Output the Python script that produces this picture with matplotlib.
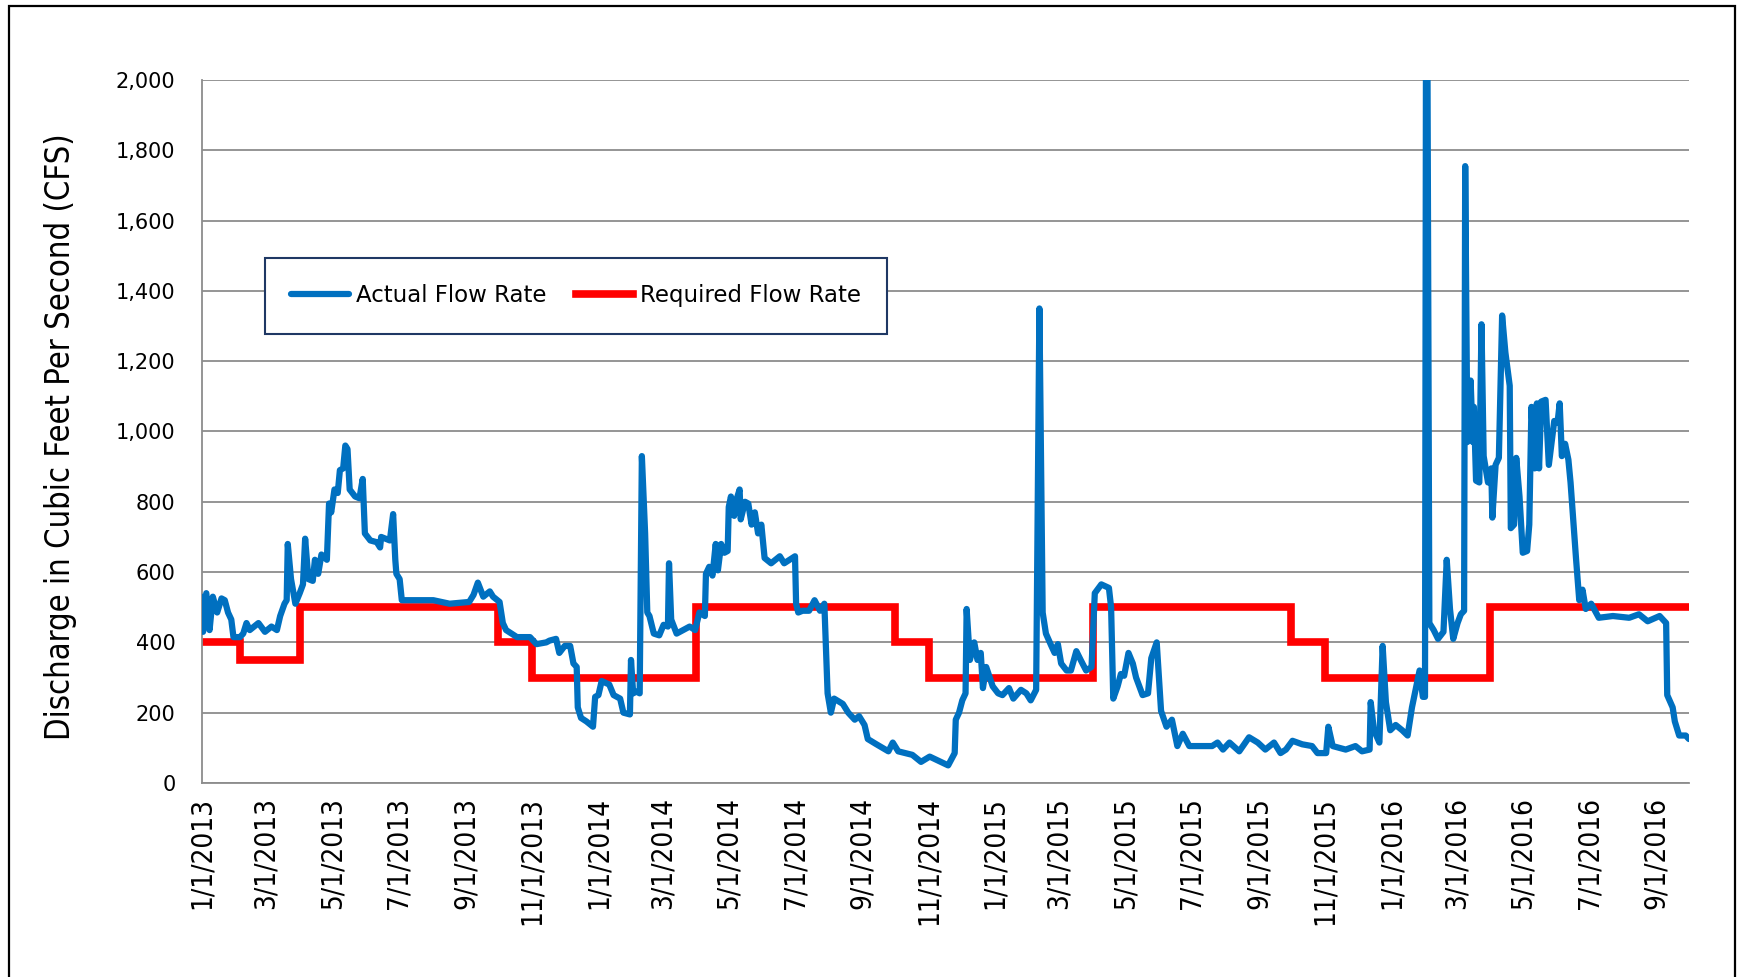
"""Actual vs required flow rate, 2013-2016, redrawn from the Excel chart."""
import matplotlib
matplotlib.use("Agg")

import matplotlib.pyplot as plt  # noqa: E402
import matplotlib.dates as mdates  # noqa: E402
from matplotlib import font_manager  # noqa: E402
from matplotlib.patches import Rectangle  # noqa: E402
from matplotlib.ticker import FuncFormatter  # noqa: E402
import pandas as pd  # noqa: E402

START = pd.Timestamp("2013-01-01")
END_DAY = 1369  # last day on the axis, 9/30/2016

# Actual flow, (days after 1/1/2013, CFS).
FLOW_2013 = [
    (0, 530), (1, 430), (4, 540), (7, 435), (10, 530), (14, 485), (18, 525),
    (21, 520), (24, 485), (27, 465), (29, 415), (35, 415), (38, 425), (41, 455),
    (44, 435), (52, 455), (58, 430), (64, 445), (69, 435), (72, 475), (76, 510),
    (78, 520), (79, 680), (82, 580), (86, 510), (90, 540), (93, 565), (95, 695),
    (98, 580), (102, 575), (104, 635), (107, 595), (110, 650), (115, 635),
    (117, 795), (119, 770), (122, 835), (125, 825), (127, 890), (130, 895),
    (132, 960), (134, 950), (136, 835), (141, 815), (145, 810), (148, 865),
    (150, 710), (155, 690), (161, 685), (164, 670), (165, 700), (173, 690),
    (176, 765), (178, 635), (179, 595), (182, 580), (184, 520), (194, 520),
    (213, 520), (228, 510), (246, 515), (250, 535), (254, 570), (259, 530),
    (265, 545), (268, 530), (274, 515), (277, 455), (280, 435), (290, 415),
    (302, 415), (308, 395), (317, 400), (320, 405), (326, 410), (329, 370),
    (334, 390), (339, 390), (342, 340), (345, 330), (346, 215), (349, 185),
    (354, 175), (360, 160),
]
FLOW_2014 = [
    (362, 245), (365, 250), (368, 290), (375, 280), (379, 250), (385, 240),
    (388, 200), (394, 195), (395, 350), (397, 255), (400, 260), (403, 255),
    (405, 930), (408, 710), (410, 485), (412, 475), (416, 425), (421, 420),
    (425, 450), (429, 445), (430, 625), (432, 465), (437, 425), (443, 435),
    (449, 445), (454, 435), (458, 485), (463, 475), (464, 595), (467, 615),
    (470, 590), (473, 680), (475, 605), (478, 680), (481, 655), (484, 660),
    (485, 785), (487, 815), (490, 760), (492, 805), (495, 835), (496, 750),
    (500, 800), (503, 795), (506, 735), (509, 770), (512, 710), (515, 735),
    (518, 640), (524, 625), (532, 645), (536, 625), (546, 645), (547, 510),
    (549, 485), (553, 490), (559, 490), (564, 520), (569, 490), (573, 510),
    (576, 255), (579, 200), (582, 240), (590, 225), (595, 200), (601, 180),
    (605, 190), (610, 165), (613, 125), (621, 110), (632, 90), (636, 115),
    (641, 90), (654, 80), (662, 60), (670, 75), (687, 50), (693, 85),
    (694, 180), (697, 200), (700, 235), (703, 255), (704, 495), (707, 350),
    (711, 400), (714, 350), (717, 370), (719, 270), (722, 330),
]
FLOW_2015 = [
    (728, 275), (733, 255), (737, 250), (743, 270), (747, 240), (754, 265),
    (759, 255), (763, 235), (768, 265), (769, 615), (771, 1350), (774, 485),
    (777, 425), (782, 390), (785, 370), (788, 395), (791, 340), (796, 320),
    (800, 320), (805, 375), (809, 350), (814, 320), (819, 330), (822, 540),
    (828, 565), (835, 555), (837, 500), (839, 240), (843, 275), (846, 310),
    (849, 305), (853, 370), (857, 340), (860, 300), (866, 250), (871, 255),
    (874, 355), (879, 400), (883, 205), (888, 160), (893, 180), (898, 105),
    (903, 140), (909, 105), (921, 105), (930, 105), (935, 115), (940, 95),
    (946, 115), (955, 90), (964, 130), (972, 115), (979, 95), (987, 115),
    (993, 85), (998, 95), (1004, 120), (1013, 110), (1022, 105), (1027, 85),
    (1035, 85), (1037, 160), (1041, 105), (1053, 95), (1062, 105), (1068, 90),
    (1075, 95), (1076, 230), (1079, 150), (1084, 115), (1087, 390), (1090, 230),
]
FLOW_2016 = [
    (1094, 150), (1099, 165), (1105, 150), (1110, 135), (1114, 215),
    (1118, 275), (1121, 320), (1124, 245), (1126, 245), (1127, 2300),
    (1128, 2300), (1130, 455), (1134, 435), (1138, 410), (1143, 430),
    (1146, 635), (1149, 495), (1152, 410), (1156, 455), (1159, 480),
    (1162, 490), (1163, 1755), (1165, 970), (1168, 1145), (1170, 970),
    (1171, 1070), (1173, 860), (1176, 855), (1178, 1305), (1180, 930),
    (1184, 855), (1187, 895), (1188, 755), (1191, 905), (1194, 925),
    (1197, 1330), (1200, 1225), (1204, 1130), (1205, 725), (1208, 735),
    (1210, 925), (1213, 815), (1216, 655), (1220, 660), (1222, 735),
    (1224, 1070), (1227, 895), (1229, 1080), (1231, 895), (1233, 1085),
    (1237, 1090), (1240, 905), (1245, 1030), (1248, 1025), (1250, 1080),
    (1252, 930), (1255, 965), (1258, 920), (1260, 855), (1265, 640),
    (1268, 520), (1271, 550), (1274, 495), (1279, 510), (1286, 470),
    (1299, 475), (1314, 470), (1323, 480), (1331, 460), (1342, 475),
    (1348, 455), (1349, 250), (1354, 215), (1356, 175), (1360, 135),
    (1366, 135), (1369, 125),
]

# Required flow: the date each level starts, and the level.
REQ_START = ["2013-01-01", "2013-02-05", "2013-04-01", "2013-10-01",
             "2013-11-01", "2014-04-01", "2014-10-01", "2014-11-01",
             "2015-04-01", "2015-10-01", "2015-11-01", "2016-04-01",
             "2016-09-30"]
REQ_CFS = [400, 350, 500, 400, 300, 500, 400, 300, 500, 400, 300, 500, 500]

BLUE = "#0070C0"
RED = "#FF0000"
GRID = "#8C8C8C"
NAVY = "#1F3864"


def _narrow_font():
    """A condensed sans if one is installed, else plain DejaVu Sans."""
    for fam in ("Liberation Sans Narrow", "DejaVu Sans"):
        try:
            path = font_manager.findfont(
                font_manager.FontProperties(family=fam, stretch="condensed"),
                fallback_to_default=False)
        except ValueError:
            continue
        if "Narrow" in path or "Condensed" in path:
            return font_manager.FontProperties(fname=path)
    return font_manager.FontProperties(family="DejaVu Sans")


NARROW = _narrow_font()

flow = FLOW_2013 + FLOW_2014 + FLOW_2015 + FLOW_2016
flow_dates = [START + pd.Timedelta(days=d) for d, _ in flow]
flow_cfs = [v for _, v in flow]
req_dates = pd.to_datetime(REQ_START)

fig = plt.figure(figsize=(17.41, 9.77), dpi=100)
ax = fig.add_axes([0.1160, 0.1986, 0.8541, 0.7195])

ax.plot(flow_dates, flow_cfs, color=BLUE, lw=4.5, solid_joinstyle="round",
        solid_capstyle="round", label="Actual Flow Rate", zorder=3)
ax.plot(req_dates, REQ_CFS, color=RED, lw=5.5, drawstyle="steps-post",
        solid_joinstyle="miter", label="Required Flow Rate", zorder=2)

ax.set_xlim(START, START + pd.Timedelta(days=END_DAY))
ax.set_ylim(0, 2000)
ax.set_yticks(range(0, 2001, 200))
ax.yaxis.set_major_formatter(FuncFormatter(lambda v, p: f"{v:,.0f}"))
ax.xaxis.set_major_locator(mdates.MonthLocator(bymonth=[1, 3, 5, 7, 9, 11]))
ax.xaxis.set_major_formatter(FuncFormatter(
    lambda v, p: (lambda d: f"{d.month}/{d.day}/{d.year}")(mdates.num2date(v))))

ax.grid(axis="y", color=GRID, lw=1.3)
ax.set_axisbelow(True)
for side in ("top", "right"):
    ax.spines[side].set_visible(False)
for side in ("left", "bottom"):
    ax.spines[side].set_color(GRID)
    ax.spines[side].set_linewidth(1.3)

ax.tick_params(axis="y", length=0, pad=19, labelsize=15)
ax.tick_params(axis="x", length=0, pad=10, labelsize=20, labelrotation=90)
for lab in ax.get_xticklabels():
    lab.set_fontproperties(NARROW)
    lab.set_fontsize(20)

leg = ax.legend(loc="upper left", bbox_to_anchor=(265 / 1741, 1 - 258 / 977),
                bbox_transform=fig.transFigure, ncol=2, fontsize=16.5,
                frameon=True, fancybox=False, framealpha=1, borderpad=1.15,
                handlelength=2.5, handletextpad=0.3, columnspacing=1.3,
                borderaxespad=0)
leg.get_frame().set_edgecolor(NAVY)
leg.get_frame().set_linewidth(1.5)

ylab = fig.text(61 / 1741, 1 - 437 / 977,
                "Discharge in Cubic Feet Per Second (CFS)",
                rotation=90, ha="center", va="center", fontproperties=NARROW)
ylab.set_fontsize(22)

# size the condensed texts to the lengths they have in the picture
fig.canvas.draw()
r = fig.canvas.get_renderer()
ylab.set_fontsize(22 * 608 / ylab.get_window_extent(r).height)
probe = [t for t in ax.get_xticklabels() if t.get_text() == "11/1/2013"][0]
size = 20 * 128 / probe.get_window_extent(r).height
for lab in ax.get_xticklabels():
    lab.set_fontsize(size)

fig.patches.append(Rectangle((9 / 1741, -0.05), (1735 - 9) / 1741, 1.05 - 6 / 977,
                             transform=fig.transFigure, fill=False,
                             edgecolor="black", lw=1.6))

fig.savefig("out.png", dpi=100, facecolor="white")
